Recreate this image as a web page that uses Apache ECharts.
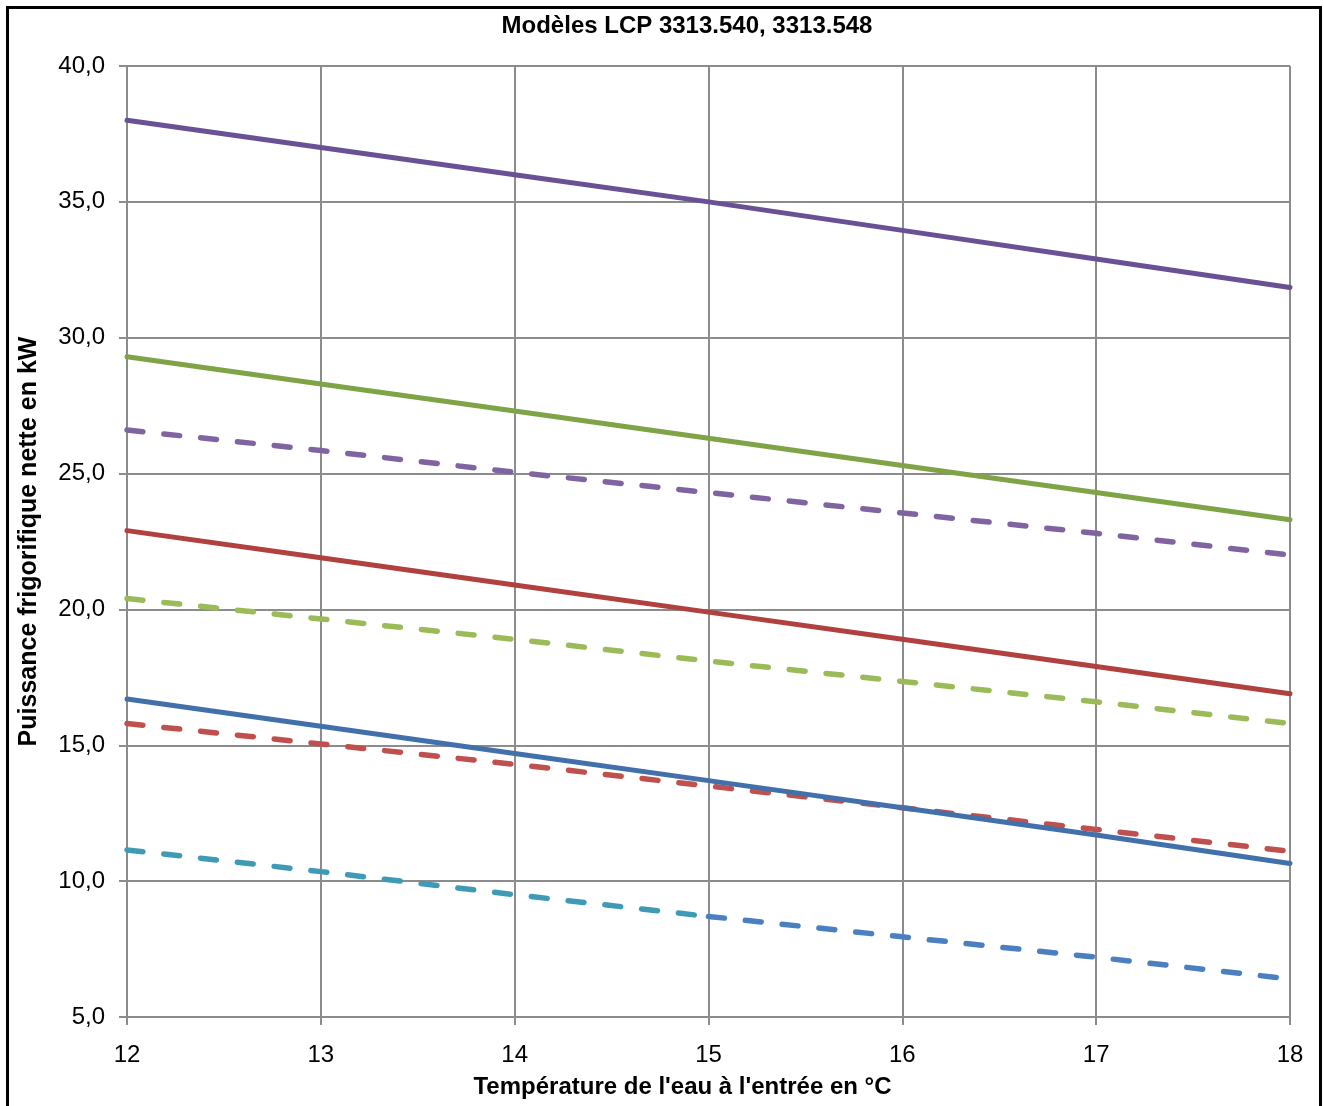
<!DOCTYPE html>
<html>
<head>
<meta charset="utf-8">
<script src="https://cdn.jsdelivr.net/npm/echarts@6/dist/echarts.min.js"></script>
<style>
  html, body { margin: 0; padding: 0; background: #fff; }
  #chart { width: 1324px; height: 1106px; }
</style>
</head>
<body>
<div id="chart"></div>
<script>
// Inlet water temperature (°C)
const temperatures = [12, 13, 14, 15, 16, 17, 18];

// Net cooling capacity (kW), solid curves
const solidPurple = [38.0, 37.0, 36.0, 35.0, 33.95, 32.9, 31.85];
const solidGreen  = [29.3, 28.3, 27.3, 26.3, 25.3, 24.3, 23.3];
const solidRed    = [22.9, 21.9, 20.9, 19.9, 18.9, 17.9, 16.9];
const solidBlue   = [16.7, 15.7, 14.7, 13.7, 12.7, 11.7, 10.65];

// Net cooling capacity (kW), dashed curves
const dashedPurple = [26.6, 25.85, 25.05, 24.3, 23.55, 22.8, 22.0];
const dashedGreen  = [20.4, 19.65, 18.9, 18.1, 17.35, 16.6, 15.8];
const dashedRed    = [15.8, 15.05, 14.3, 13.5, 12.7, 11.9, 11.1];
const dashedTeal   = [11.15, 10.35, 9.5, 8.7, null, null, null];
const dashedBlue   = [null, null, null, 8.7, 7.95, 7.2, 6.4];

const yTicks = { min: 5, max: 40, step: 5 };

function pairs(values) {
  return temperatures.map((t, i) => [t, values[i]]);
}

function line(name, values, color, dashed) {
  return {
    name: name,
    type: 'line',
    data: pairs(values),
    showSymbol: false,
    connectNulls: false,
    silent: true,
    lineStyle: {
      color: color,
      width: dashed ? 5.5 : 5,
      type: dashed ? [16, 21] : 'solid',
      cap: 'round'
    },
    itemStyle: { color: color }
  };
}

const chart = echarts.init(document.getElementById('chart'), null, { renderer: 'canvas' });

chart.setOption({
  animation: false,
  backgroundColor: '#ffffff',
  textStyle: { fontFamily: 'Liberation Sans, Arial, sans-serif' },
  title: {
    text: 'Modèles LCP 3313.540, 3313.548',
    left: 682,
    textAlign: 'center',
    top: 9,
    textStyle: { fontSize: 24, fontWeight: 'bold', color: '#000', fontFamily: 'Liberation Sans, Arial, sans-serif' }
  },
  graphic: [{
    type: 'rect',
    shape: { x: 7.5, y: 7.5, width: 1313, height: 1110 },
    style: { fill: 'none', stroke: '#000', lineWidth: 3 },
    silent: true
  }],
  grid: { left: 127, right: 34, top: 66, bottom: 89, containLabel: false },
  xAxis: {
    type: 'value',
    min: temperatures[0],
    max: temperatures[temperatures.length - 1],
    interval: 1,
    name: "Température de l'eau à l'entrée en °C",
    nameLocation: 'middle',
    nameGap: 58,
    nameTextStyle: { fontSize: 24, fontWeight: 'bold', color: '#000', padding: [0, 52, 0, 0] },
    axisLine: { lineStyle: { color: '#8c8c8c', width: 2 } },
    axisTick: { show: true, length: 8, lineStyle: { color: '#8c8c8c', width: 2 } },
    axisLabel: { fontSize: 24, color: '#000', margin: 26 },
    splitLine: { show: true, lineStyle: { color: '#8c8c8c', width: 2 } }
  },
  yAxis: {
    type: 'value',
    min: yTicks.min,
    max: yTicks.max,
    interval: yTicks.step,
    name: 'Puissance frigorifique nette en kW',
    nameLocation: 'middle',
    nameGap: 85,
    nameRotate: 90,
    nameTextStyle: { fontSize: 25, fontWeight: 'bold', color: '#000' },
    axisLine: { show: true, lineStyle: { color: '#8c8c8c', width: 2 } },
    axisTick: { show: true, length: 8, lineStyle: { color: '#8c8c8c', width: 2 } },
    axisLabel: {
      fontSize: 24, color: '#000', margin: 22,
      formatter: v => v.toFixed(1).replace('.', ',')
    },
    splitLine: { show: true, lineStyle: { color: '#8c8c8c', width: 2 } }
  },
  series: [
    line('dashedTeal', dashedTeal, '#3f9bb5', true),
    line('dashedBlue', dashedBlue, '#4a7fc0', true),
    line('dashedRed', dashedRed, '#c0504d', true),
    line('solidBlue', solidBlue, '#4270ab', false),
    line('dashedGreen', dashedGreen, '#9bbb59', true),
    line('solidRed', solidRed, '#b0413e', false),
    line('dashedPurple', dashedPurple, '#8064a2', true),
    line('solidGreen', solidGreen, '#7fa347', false),
    line('solidPurple', solidPurple, '#6a5094', false)
  ]
});
</script>
</body>
</html>
